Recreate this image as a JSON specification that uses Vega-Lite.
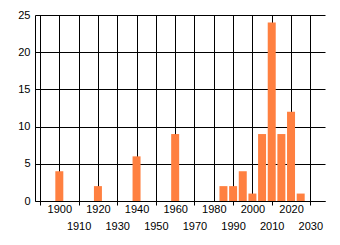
{
  "$schema": "https://vega.github.io/schema/vega-lite/v6.json",
  "width": 290,
  "height": 186,
  "autosize": "none",
  "padding": {"left": 35, "top": 15, "right": 15, "bottom": 44},
  "background": "white",
  "config": {
    "view": {"stroke": null},
    "axis": {"labelFont": "Liberation Sans", "labelFontSize": 11, "labelColor": "#000000"}
  },
  "data": {"values": [
    {"year": 1900, "count": 4},
    {"year": 1920, "count": 2},
    {"year": 1940, "count": 6},
    {"year": 1960, "count": 9},
    {"year": 1985, "count": 2},
    {"year": 1990, "count": 2},
    {"year": 1995, "count": 4},
    {"year": 2000, "count": 1},
    {"year": 2005, "count": 9},
    {"year": 2010, "count": 24},
    {"year": 2015, "count": 9},
    {"year": 2020, "count": 12},
    {"year": 2025, "count": 1}
  ]},
  "mark": {"type": "bar", "size": 8, "color": "#FF8040"},
  "encoding": {
    "x": {
      "field": "year", "type": "quantitative",
      "scale": {"domain": [1890, 2035], "nice": false, "zero": false},
      "axis": {
        "title": null,
        "values": [1890, 1900, 1910, 1920, 1930, 1940, 1950, 1960, 1970, 1980, 1990, 2000, 2010, 2020, 2030],
        "format": "d",
        "labelExpr": "datum.value == 1890 ? '' : datum.label",
        "labelFlush": false,
        "labelOverlap": false,
        "grid": true, "gridColor": "#000000", "gridOpacity": 1, "gridWidth": 1,
        "domainColor": "#000000", "domainWidth": 1,
        "ticks": true, "tickColor": "#000000",
        "tickSize": {"condition": {"test": "(datum.value / 10) % 2 == 1", "value": 4}, "value": 0},
        "labelPadding": {"condition": {"test": "(datum.value / 10) % 2 == 1", "value": 15}, "value": 2}
      }
    },
    "y": {
      "field": "count", "type": "quantitative",
      "scale": {"domain": [0, 25], "nice": false},
      "axis": {
        "title": null,
        "values": [0, 5, 10, 15, 20, 25],
        "grid": true, "gridColor": "#000000", "gridOpacity": 1, "gridWidth": 1,
        "domainColor": "#000000",
        "ticks": false, "labelPadding": 5
      }
    }
  }
}
